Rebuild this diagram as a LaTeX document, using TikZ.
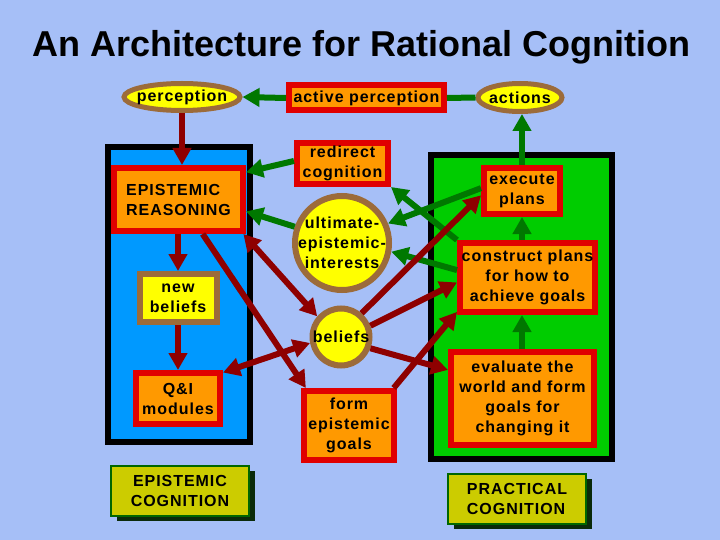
\documentclass[tikz,border=0pt]{standalone}
\usepackage{fontspec}
\setmainfont{Liberation Sans}
\newfontfamily\nodefont{Liberation Sans Bold}[LetterSpace=6]
\usetikzlibrary{arrows.meta,shapes.geometric,shadows,calc}
\definecolor{bg}{HTML}{A6BFF7}
\definecolor{boxorange}{HTML}{FF9900}
\definecolor{boxred}{HTML}{E00000}
\definecolor{boxyellow}{HTML}{FFFF00}
\definecolor{boxbrown}{HTML}{9C6B3A}
\definecolor{boxblue}{HTML}{0099FF}
\definecolor{boxgreen}{HTML}{00CC00}
\definecolor{arrowred}{HTML}{8E0000}
\definecolor{arrowgreen}{HTML}{007800}
\definecolor{olive}{HTML}{CCCC00}
\definecolor{olivedge}{HTML}{006600}
\definecolor{shadowc}{HTML}{0A2A0A}
\begin{document}
\begin{tikzpicture}[x=1pt,y=-1pt,
  txt/.style={font=\nodefont\fontsize{16}{20}\selectfont, align=center, text=black},
  redbox/.style={txt, draw=boxred, fill=boxorange, line width=6pt, inner sep=0pt},
  brownbox/.style={txt, draw=boxbrown, fill=boxyellow, line width=6pt, inner sep=0pt},
  brownell/.style={ellipse, draw=boxbrown, fill=boxyellow, line width=5pt, inner sep=0pt},
  browncirc/.style={circle, draw=boxbrown, fill=boxyellow, line width=6pt, inner sep=0pt},
  bigbox/.style={draw=black, line width=6pt, inner sep=0pt},
  labelbox/.style={txt, draw=olivedge, fill=olive, line width=2pt, inner sep=0pt,
    minimum width=138pt, minimum height=50pt,
    drop shadow={shadow xshift=6pt, shadow yshift=-5pt, fill=shadowc, opacity=1}},
  tip/.style={Triangle[length=17pt,width=18pt]},
  redarrow/.style={draw=arrowred, line width=6pt, -{Triangle[length=17pt,width=18pt]}},
  redboth/.style={draw=arrowred, line width=6pt, {Triangle[length=17pt,width=18pt]}-{Triangle[length=17pt,width=18pt]}},
  greenarrow/.style={draw=arrowgreen, line width=6pt, -{Triangle[length=17pt,width=18pt]}},
  greenline/.style={draw=arrowgreen, line width=6pt}
]
\useasboundingbox (0,0) rectangle (720,540);
\fill[bg] (0,0) rectangle (720,540);

\node[font=\bfseries\fontsize{36}{40}\selectfont, anchor=base] (title) at (361.5,57) {An Architecture for Rational Cognition};

% big boxes
\node[bigbox, fill=boxblue, minimum width=142pt, minimum height=295pt] (lbox) at (179,294.5) {};
\node[bigbox, fill=boxgreen, minimum width=181pt, minimum height=304pt] (rbox) at (521.5,307) {};

% top row
\node[brownell, minimum width=116pt, minimum height=27pt,
  label={[txt]center:perception}] (perc) at (182,97) {};
\node[redbox, minimum width=155pt, minimum height=25pt] (actper) at (366.5,98) {active perception};
\node[brownell, minimum width=84pt, minimum height=28pt,
  label={[txt]center:actions}] (actions) at (520,97.5) {};

% epistemic side
\node[redbox, align=left, minimum width=129pt, minimum height=63pt] (ER) at (178.5,199.5) {EPISTEMIC\\REASONING};
\node[brownbox, minimum width=77pt, minimum height=48pt] (newb) at (178,298) {new\\beliefs};
\node[redbox, minimum width=84pt, minimum height=51pt] (QI) at (178,398.5) {Q\&I\\modules};

% middle
\node[redbox, minimum width=91pt, minimum height=41pt] (redirect) at (342.5,163.5) {redirect\\cognition};
\node[browncirc, minimum size=94pt,
  label={[txt]center:ultimate-\\epistemic-\\interests}] (UEI) at (342,243) {};
\node[browncirc, minimum size=57pt,
  label={[txt]center:beliefs}] (bel) at (341,337) {};
\node[redbox, minimum width=90pt, minimum height=69pt] (form) at (349,425.5) {form\\epistemic\\goals};

% practical side
\node[redbox, minimum width=76pt, minimum height=46pt] (exec) at (522,191) {execute\\plans};
\node[redbox, minimum width=135pt, minimum height=69pt] (constr) at (527.5,277.5) {construct plans\\for how to\\achieve goals};
\node[redbox, minimum width=143pt, minimum height=93pt] (eval) at (522.5,398.5) {evaluate the\\world and form\\goals for\\changing it};

% labels
\node[labelbox] (ec) at (180,491) {EPISTEMIC\\COGNITION};
\node[labelbox, align=left] (pc) at (517,499) {PRACTICAL\\COGNITION};

% green connectors
\draw[greenarrow] (actper.west) -- (perc.east);
\draw[greenline] (actper.east) -- (actions.west);
\draw[greenarrow] (exec.north) -- (exec.north |- actions.south);
\draw[greenarrow] (constr.north -| exec.south) -- (exec.south);
\draw[greenarrow] (eval.north -| exec.south) -- (constr.south -| exec.south);
\draw[greenarrow] (redirect.177) -- (ER.22);
\draw[greenarrow] (UEI.161) -- (ER.-10);
\draw[greenarrow] (exec.176) -- (UEI.23);
\draw[greenarrow] (constr.north west) -- (redirect.south east);
\draw[greenarrow] (constr.174) -- (UEI.-10);

% red connectors
\draw[redarrow] (perc.south) -- (perc.south |- ER.north);
\draw[redarrow] (ER.south -| newb.north) -- (newb.north);
\draw[redarrow] (newb.south) -- (QI.north);
\draw[redboth] (ER.-28.5) -- (bel.139);
\draw[redarrow] (ER.-55) -- (form.139);
\draw[redboth] (QI.30) -- (bel.191);
\draw[redarrow] (bel.49) -- (exec.186);
\draw[redarrow] (bel.21) -- (constr.184);
\draw[redarrow] (bel.-21) -- (eval.159);
\draw[redarrow] (form.40) -- (constr.206);
\end{tikzpicture}
\end{document}
